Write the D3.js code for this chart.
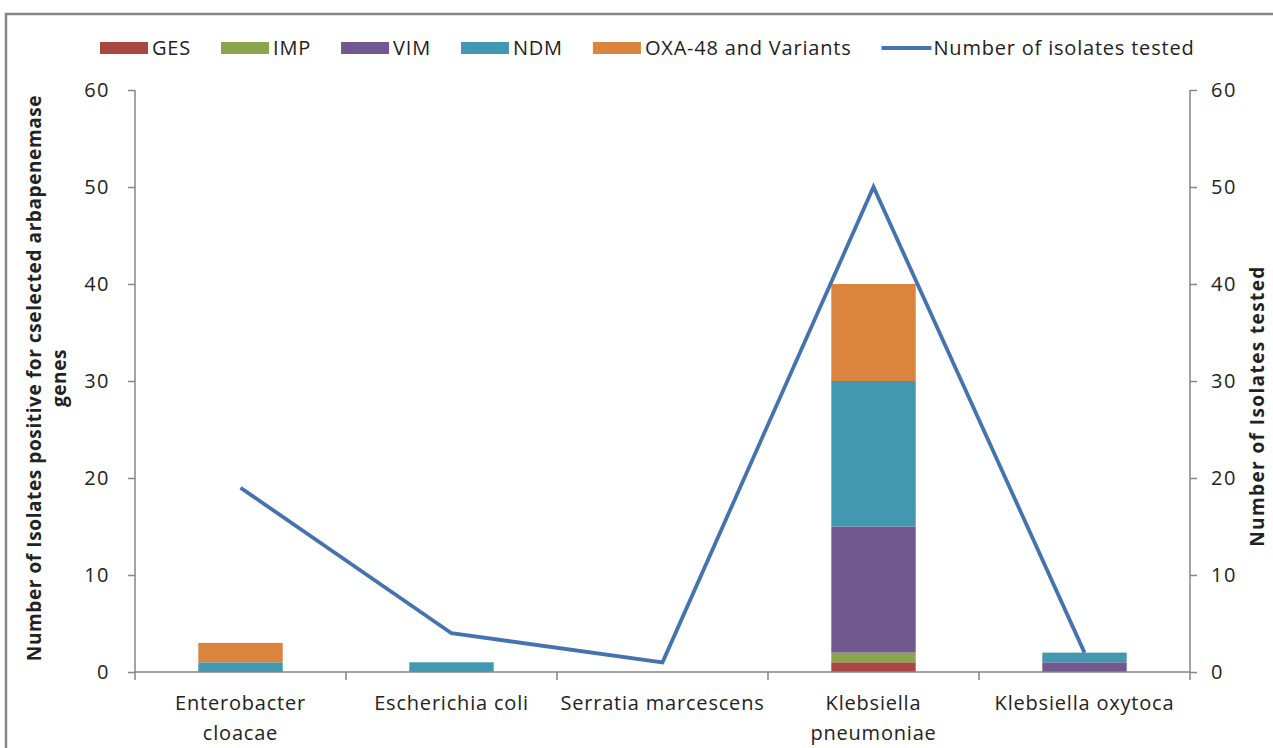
<!DOCTYPE html>
<html>
<head>
<meta charset="utf-8">
<script src="https://cdn.jsdelivr.net/npm/d3@7"></script>
<style>
  body { margin: 0; background: #fff; }
  text { font-family: "Open Sans", sans-serif; fill: #222; }
</style>
</head>
<body>
<div id="chart"></div>
<script>
(function() {
  'use strict';
  var WIDTH = 1273;
  var HEIGHT = 748;

  // data
  var categories = ['Enterobacter\ncloacae', 'Escherichia coli', 'Serratia marcescens',
    'Klebsiella\npneumoniae', 'Klebsiella oxytoca'];
  var seriesNames = ['GES', 'IMP', 'VIM', 'NDM', 'OXA-48 and Variants'];
  var seriesColors = ['#AA4643', '#89A54E', '#71588F', '#4198AF', '#DB843D'];
  var GES = [0, 0, 0, 1, 0];
  var IMP = [0, 0, 0, 1, 0];
  var VIM = [0, 0, 0, 13, 1];
  var NDM = [1, 1, 0, 15, 1];
  var OXA = [2, 0, 0, 10, 0];
  var tested = [19, 4, 1, 50, 2];
  var lineName = 'Number of isolates tested';
  var yTicks = [0, 10, 20, 30, 40, 50, 60];
  var leftTitle = ['Number of Isolates positive for cselected arbapenemase', 'genes'];
  var rightTitle = 'Number of Isolates tested';

  var margin = {top: 90, right: 83, bottom: 76, left: 135};
  var plotW = WIDTH - margin.left - margin.right;
  var plotH = HEIGHT - margin.top - margin.bottom;
  var axisColor = '#868686';

  var svg = d3.select('#chart').append('svg')
    .attr('width', WIDTH)
    .attr('height', HEIGHT);

  svg.append('rect').attr('width', WIDTH).attr('height', HEIGHT).attr('fill', '#fff');

  // chart frame (only top and left edges are visible)
  svg.append('path')
    .attr('d', 'M6,' + HEIGHT + 'V14H' + WIDTH)
    .attr('fill', 'none')
    .attr('stroke', '#878787')
    .attr('stroke-width', 2.5);

  var g = svg.append('g')
    .attr('transform', 'translate(' + margin.left + ',' + margin.top + ')');

  var x = d3.scaleBand().domain(categories).range([0, plotW]).padding(0);
  var y = d3.scaleLinear().domain([0, 60]).range([plotH, 0]);
  var yR = d3.scaleLinear().domain([0, 60]).range([plotH, 0]);

  // stacked bars
  var rows = categories.map(function(c, i) {
    return {cat: c, GES: GES[i], IMP: IMP[i], VIM: VIM[i], NDM: NDM[i], OXA: OXA[i]};
  });
  var keys = ['GES', 'IMP', 'VIM', 'NDM', 'OXA'];
  var stack = d3.stack().keys(keys)(rows);
  var barW = x.bandwidth() / 2.5;

  g.selectAll('.series').data(stack).enter().append('g')
    .attr('fill', function(d, i) { return seriesColors[i]; })
    .selectAll('rect').data(function(d) { return d; }).enter().append('rect')
    .attr('x', function(d) { return x(d.data.cat) + (x.bandwidth() - barW) / 2; })
    .attr('width', barW)
    .attr('y', function(d) { return y(d[1]); })
    .attr('height', function(d) { return y(d[0]) - y(d[1]); });

  // axes
  var left = g.append('g')
    .call(d3.axisLeft(y).tickValues(yTicks).tickSize(7).tickSizeOuter(0).tickPadding(18));
  var right = g.append('g').attr('transform', 'translate(' + plotW + ',0)')
    .call(d3.axisRight(yR).tickValues(yTicks).tickSize(7).tickSizeOuter(0).tickPadding(14));
  [left, right].forEach(function(a) {
    a.select('.domain').attr('stroke', axisColor).attr('stroke-width', 1.5)
      .attr('d', 'M0,0V' + (plotH + 8));
    a.selectAll('.tick line').attr('stroke', axisColor).attr('stroke-width', 1.5);
    a.selectAll('.tick text').attr('font-size', 20).attr('fill', '#222')
      .attr('letter-spacing', 1.5)
      .attr('font-family', '"Open Sans", sans-serif');
  });

  var bottom = g.append('g').attr('transform', 'translate(0,' + plotH + ')');
  bottom.append('line').attr('x1', 0).attr('x2', plotW)
    .attr('stroke', axisColor).attr('stroke-width', 1.5);
  bottom.selectAll('.ctick').data(categories.slice(1)).enter().append('line')
    .attr('x1', function(d) { return x(d); }).attr('x2', function(d) { return x(d); })
    .attr('y1', 0).attr('y2', 8)
    .attr('stroke', axisColor).attr('stroke-width', 1.5);
  bottom.selectAll('.clabel').data(categories).enter().append('text')
    .attr('text-anchor', 'middle')
    .attr('font-size', 20)
    .attr('letter-spacing', 0.8)
    .attr('x', function(d) { return x(d) + x.bandwidth() / 2; })
    .each(function(d) {
      var t = d3.select(this);
      d.split('\n').forEach(function(line, i) {
        t.append('tspan').attr('x', x(d) + x.bandwidth() / 2)
          .attr('y', 38 + i * 30).text(line);
      });
    });

  // line series on the secondary axis
  var line = d3.line()
    .x(function(d, i) { return x(categories[i]) + x.bandwidth() / 2; })
    .y(function(d) { return yR(d); });
  g.append('path').datum(tested)
    .attr('d', line)
    .attr('fill', 'none')
    .attr('stroke', '#4573AF')
    .attr('stroke-width', 3.8)
    .attr('stroke-linejoin', 'miter');

  // axis titles
  var lt = svg.append('text')
    .attr('transform', 'translate(35,378) rotate(-90)')
    .attr('text-anchor', 'middle')
    .attr('font-size', 19)
    .attr('letter-spacing', 0.6)
    .attr('font-weight', 'bold');
  leftTitle.forEach(function(s, i) {
    lt.append('tspan').attr('x', 0).attr('y', 6 + i * 25).text(s);
  });
  svg.append('text')
    .attr('transform', 'translate(1262,406) rotate(-90)')
    .attr('text-anchor', 'middle')
    .attr('dy', 2)
    .attr('font-size', 19)
    .attr('letter-spacing', 1.4)
    .attr('font-weight', 'bold')
    .text(rightTitle);

  // legend
  var lg = svg.append('g').attr('transform', 'translate(100,48)');
  var cx = 0;
  seriesNames.concat([lineName]).forEach(function(name, i) {
    var item = lg.append('g').attr('transform', 'translate(' + cx + ',0)');
    if (i < seriesNames.length) {
      item.append('rect').attr('x', 0).attr('y', -6).attr('width', 48).attr('height', 12)
        .attr('fill', seriesColors[i]);
    } else {
      item.append('line').attr('x1', 0).attr('x2', 50)
        .attr('stroke', '#4573AF').attr('stroke-width', 3.8);
    }
    var t = item.append('text').attr('x', 52).attr('dy', 7)
      .attr('font-size', 20).attr('letter-spacing', 0.8).text(name);
    cx += 52 + t.node().getComputedTextLength() + 30;
  });
})();
</script>
</body>
</html>
